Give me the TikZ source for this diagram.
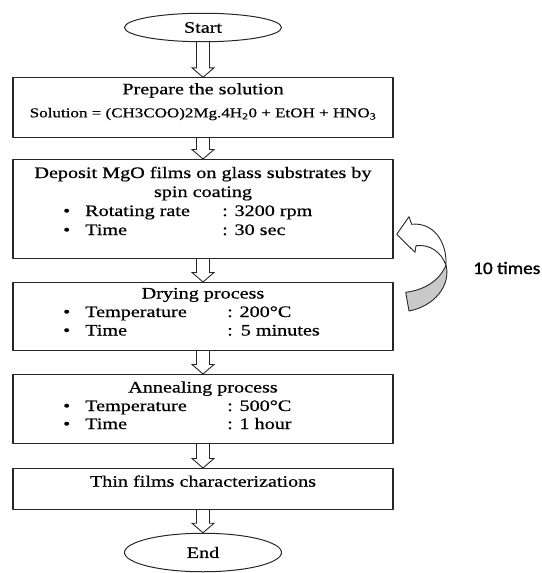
\documentclass[tikz,border=0pt]{standalone}
\usepackage{fontspec}
\setmainfont{Liberation Serif}[FakeStretch=1.26,FakeBold=0.6]
\newfontfamily\notefont{Carlito}[FakeStretch=1.1,FakeBold=1.2]
\usetikzlibrary{calc,shapes.geometric}
\tikzset{
    lab/.style={
        font=\fontsize{16}{19}\selectfont, inner sep=0pt
    },
    formula/.style={
        font=\fontsize{13.5}{16}\selectfont, inner sep=0pt
    },
    note/.style={
        font=\notefont\fontsize{17.5}{20}\selectfont, inner sep=0pt
    },
    stepbox/.style={
        draw=black!85, line width=1.1pt, minimum width=380pt, inner sep=0pt, anchor=north
    },
    term/.style={
        draw=black!85, ellipse, line width=1pt, minimum width=157pt, inner sep=0pt,
        font=\fontsize{16}{19}\selectfont
    },
    hollow/.style={
        draw=black!85, line width=0.9pt, line join=miter
    }
}

\begin{document}
\begin{tikzpicture}[x=1pt,y=-1pt,line cap=round,line join=round]
\useasboundingbox (0,0) rectangle (541,573);

% --- terminals ---
    \node[term, minimum height=28.5pt] (start) at (203,27.5) {Start};
    \node[term, minimum height=38.5pt] (stop) at (203,552.5) {End};

% --- process boxes (top edge, height) ---
    \node[stepbox, minimum height=59.4pt] (prep) at (203,77.3) {};
    \node[stepbox, minimum height=99pt] (dep) at (203,159) {};
    \node[stepbox, minimum height=68pt] (dry) at (203,282) {};
    \node[stepbox, minimum height=69pt] (ann) at (203,374) {};
    \node[stepbox, minimum height=41pt] (char) at (203,468) {};

% prepare
    \node[lab, anchor=base] (prepT) at ($ (prep.north) + (0,17) $) {Prepare the solution};
    \node[formula, anchor=base] (prepF) at ($ (prep.north) + (0,40) $)
        {Solution = (CH3COO)2Mg.4H\textsubscript{2}0 + EtOH + HNO\textsubscript{3}};

% deposit
    \node[lab, anchor=base] (depT) at ($ (dep.north) + (0,19) $) {Deposit MgO films on glass substrates by};
    \node[lab, anchor=base] (depS) at ($ (dep.north) + (0,38) $) {spin coating};
    \node[lab, anchor=base west] (depR) at ($ (dep.north west) + (50.5,57) $)
        {\textbullet\hspace{15pt}\makebox[137pt][l]{Rotating rate}: 3200 rpm};
    \node[lab, anchor=base west] (depM) at ($ (dep.north west) + (50.5,76) $)
        {\textbullet\hspace{15pt}\makebox[137pt][l]{Time}: 30 sec};

% drying
    \node[lab, anchor=base] (dryT) at ($ (dry.north) + (0,16.5) $) {Drying process};
    \node[lab, anchor=base west] (dryA) at ($ (dry.north west) + (50.5,35) $)
        {\textbullet\hspace{15pt}\makebox[142pt][l]{Temperature}: 200°C};
    \node[lab, anchor=base west] (dryM) at ($ (dry.north west) + (50.5,53.5) $)
        {\textbullet\hspace{15pt}\makebox[142pt][l]{Time}:\hspace{8pt}5 minutes};

% annealing
    \node[lab, anchor=base] (annT) at ($ (ann.north) + (0,18.5) $) {Annealing process};
    \node[lab, anchor=base west] (annA) at ($ (ann.north west) + (50.5,37) $)
        {\textbullet\hspace{15pt}\makebox[142pt][l]{Temperature}: 500°C};
    \node[lab, anchor=base west] (annM) at ($ (ann.north west) + (50.5,55) $)
        {\textbullet\hspace{15pt}\makebox[142pt][l]{Time}: 1 hour};

% characterization
    \node[lab, anchor=base] (charT) at ($ (char.north) + (0,18.7) $) {Thin films characterizations};

% hollow down arrows between the steps
    \foreach \a/\b in {start/prep, prep/dep, dep/dry, dry/ann, ann/char, char/stop}
        \draw[hollow] let \p1=(\a.south), \p2=(\b.north) in
            (\x1-6.5pt,\y1) -- (\x1-6.5pt,\y2+9.5pt) -- (\x1-11pt,\y2+9.5pt) -- (\x1,\y2)
            -- (\x1+11pt,\y2+9.5pt) -- (\x1+6.5pt,\y2+9.5pt) -- (\x1+6.5pt,\y1);

% repeat arrow (twisted ribbon)
    \coordinate (twist) at (446,265);
    \draw[black!85, line width=0.9pt, fill=white] (411.7,224.3) .. controls (432,222) and (447,240) .. (twist)
        .. controls (441,252) and (430,244) .. (416,245.7) -- (415,252.3) -- (396.7,234.3)
        -- (409,216.7) -- cycle;
    \draw[black!85, line width=0.9pt, fill=gray!42] (twist) .. controls (451,285) and (435,306) .. (409,311)
        -- (405.7,292.3) .. controls (425,290) and (440,280) .. (twist) -- cycle;
    \node[note, anchor=base west] (reps) at (473,274) {10 times};

\end{tikzpicture}
\end{document}
